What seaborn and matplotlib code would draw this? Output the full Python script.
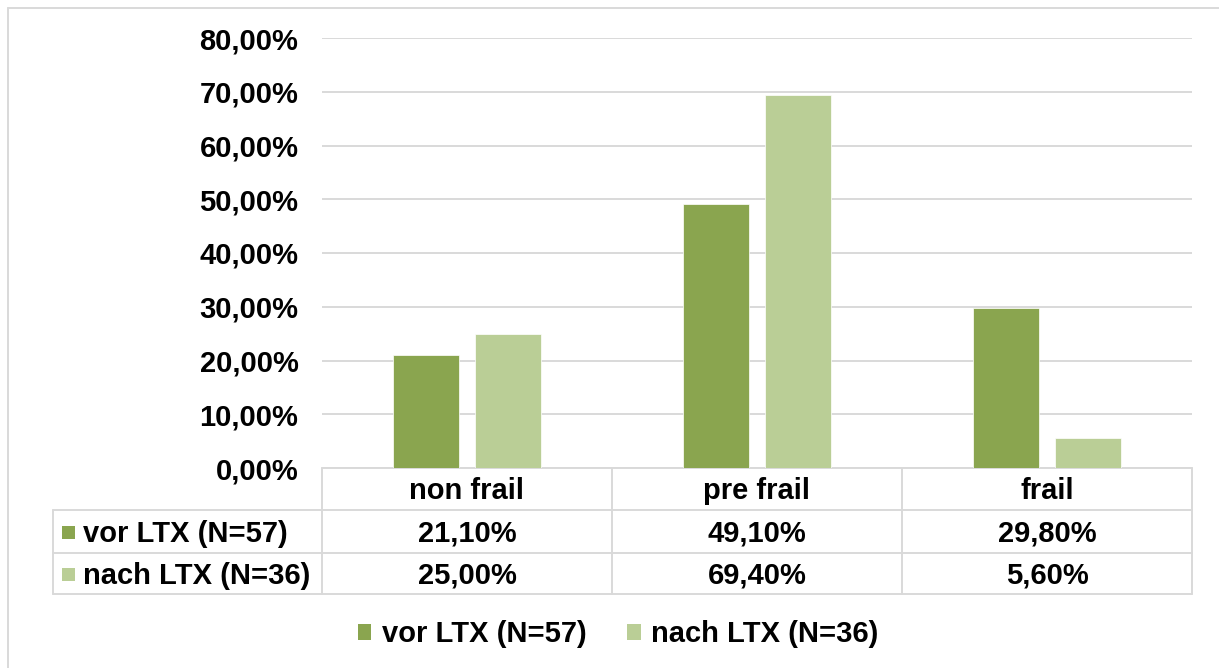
import matplotlib
matplotlib.use("Agg")
import matplotlib.pyplot as plt
import seaborn as sns
import pandas as pd
from matplotlib.lines import Line2D
from matplotlib.patches import Rectangle, Patch
from matplotlib.ticker import FuncFormatter

# Data
categories = ["non frail", "pre frail", "frail"]
series_names = ["vor LTX (N=57)", "nach LTX (N=36)"]
vor_ltx = [21.1, 49.1, 29.8]
nach_ltx = [25.0, 69.4, 5.6]
y_ticks = [0, 10, 20, 30, 40, 50, 60, 70, 80]

colors = ["#8AA54F", "#BACE96"]
grid_color = "#D9D9D9"
fs = 21

sns.set_theme(style="white")
plt.rcParams["font.family"] = ["Liberation Sans", "DejaVu Sans"]
plt.rcParams["font.weight"] = "bold"
plt.rcParams["text.color"] = "black"


def pct(v):
    return f"{v:.2f}%".replace(".", ",")


W, H = 1219, 668
fig = plt.figure(figsize=(W / 100, H / 100), dpi=100)
fig.patch.set_facecolor("white")
ax = fig.add_axes([322 / W, 1 - 468 / H, 870 / W, 430 / H])

df = pd.DataFrame({
    "Kategorie": categories * 2,
    "Gruppe": [series_names[0]] * 3 + [series_names[1]] * 3,
    "Anteil": vor_ltx + nach_ltx,
})
sns.barplot(data=df, x="Kategorie", y="Anteil", hue="Gruppe",
            hue_order=series_names, order=categories, palette=colors,
            saturation=1, width=0.566, gap=0.207, legend=False, ax=ax,
            edgecolor="white", linewidth=0.5, zorder=3)

ax.set_xlim(-0.5, 2.5)
ax.set_ylim(0, 80)
ax.set_yticks(y_ticks)
ax.yaxis.set_major_formatter(FuncFormatter(lambda v, _: pct(v)))
ax.tick_params(axis="y", length=0, pad=17, labelsize=fs, labelcolor="black")
ax.set_xticks([])
ax.set_xlabel("")
ax.set_ylabel("")
for s in ax.spines.values():
    s.set_visible(False)
ax.yaxis.grid(True, color=grid_color, linewidth=1.4, zorder=0)
ax.set_axisbelow(True)
for lbl in ax.get_yticklabels():
    lbl.set_fontweight("bold")

# Data table below the plot
xt = ax.get_xaxis_transform()
ax_h = 430.0
col_w = 290.0
rows_px = [0, 42, 85, 126]
txt_shift = 2  # text sits slightly below the geometric row centre


def ry(p):
    return -p / ax_h


left_x = -0.5 - (322 - 53) / col_w
line_kw = dict(color=grid_color, linewidth=1.4, transform=xt, clip_on=False, zorder=2)

ax.plot([-0.5, 2.5], [ry(rows_px[0])] * 2, **line_kw)
for p in rows_px[1:]:
    ax.plot([left_x, 2.5], [ry(p)] * 2, **line_kw)
ax.plot([left_x, left_x], [ry(rows_px[1]), ry(rows_px[3])], **line_kw)
for xb in [-0.5, 0.5, 1.5, 2.5]:
    ax.plot([xb, xb], [ry(rows_px[0]), ry(rows_px[3])], **line_kw)

txt_kw = dict(transform=xt, ha="center", va="center", fontsize=fs,
              fontweight="bold", color="black", clip_on=False)
for i, cat in enumerate(categories):
    ax.text(i, ry((rows_px[0] + rows_px[1]) / 2 + txt_shift), cat, **txt_kw)
for r, vals in enumerate([vor_ltx, nach_ltx]):
    ymid_px = (rows_px[r + 1] + rows_px[r + 2]) / 2
    ytxt = ry(ymid_px + txt_shift)
    for i, v in enumerate(vals):
        ax.text(i, ytxt, pct(v), **txt_kw)
    sq = 13
    ax.add_patch(Rectangle((left_x + 9 / col_w, ry(ymid_px + 1) - sq / 2 / ax_h),
                           sq / col_w, sq / ax_h, transform=xt,
                           facecolor=colors[r], edgecolor="none", clip_on=False))
    ax.text(left_x + 30 / col_w, ytxt, series_names[r], transform=xt,
            ha="left", va="center", fontsize=fs, fontweight="bold",
            color="black", clip_on=False)

# Legend below the table
handles = [Patch(facecolor=c, edgecolor="none") for c in colors]
leg = fig.legend(handles, series_names, loc="center", ncol=2, frameon=False,
                 bbox_to_anchor=(618 / W, 1 - 634 / H),
                 handlelength=0.46, handleheight=0.46, handletextpad=0.35,
                 columnspacing=1.4, prop={"weight": "bold", "size": fs})
for t in leg.get_texts():
    t.set_color("black")

# Chart area frame
fig.add_artist(Line2D([8 / W, 8 / W], [0, 1 - 8 / H], transform=fig.transFigure,
                      color=grid_color, linewidth=1.4))
fig.add_artist(Line2D([8 / W, 1], [1 - 8 / H, 1 - 8 / H], transform=fig.transFigure,
                      color=grid_color, linewidth=1.4))

fig.savefig("out.png", dpi=100, facecolor="white")
